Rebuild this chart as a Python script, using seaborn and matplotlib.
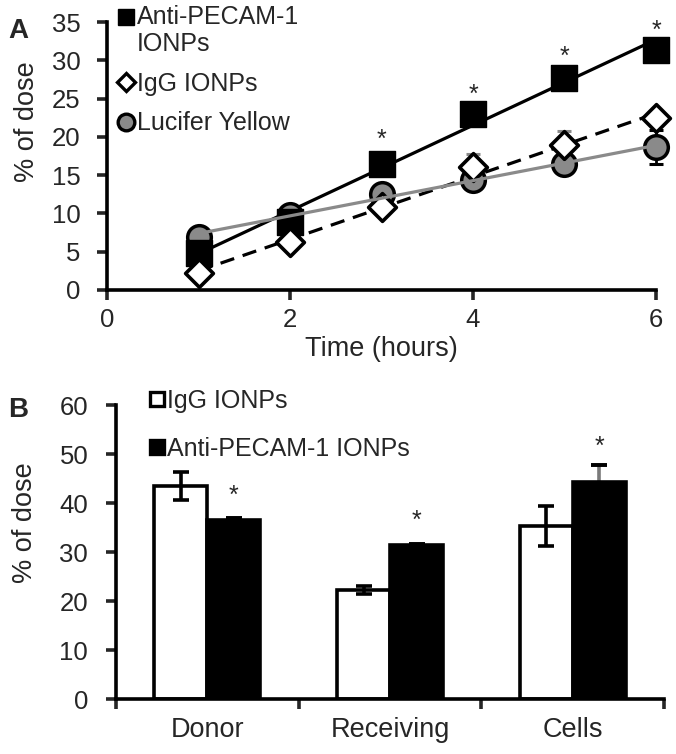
import matplotlib
matplotlib.use('Agg')

import numpy as np
import pandas as pd
import matplotlib.pyplot as plt
import seaborn as sns
from matplotlib.lines import Line2D
from matplotlib.patches import Patch
from matplotlib.legend_handler import HandlerLine2D

sns.set_style('white')
plt.rcParams['font.family'] = ['Liberation Sans', 'DejaVu Sans']

NUM_FS = 18.5   # tick numbers
LAB_FS = 19.5   # axis labels / categories
LEG_FS = 18     # legends
GREY = '#8a8a8a'

# ---------------- data: panel A ----------------
hours = [1, 2, 3, 4, 5, 6]
anti_pecam = [4.8, 8.9, 16.5, 23.0, 27.7, 31.4]
anti_pecam_err = [0.8, 0.6, 0.5, 0.6, 0.5, 0.6]
igg = [2.2, 6.3, 10.9, 16.0, 18.9, 22.4]
igg_err = [0.3, 0.4, 0.5, 1.8, 1.9, 0.8]
lucifer = [6.9, 9.8, 12.6, 14.4, 16.4, 18.7]
lucifer_err = [0.4, 0.4, 0.4, 0.4, 0.4, 2.2]
star_hours = [3, 4, 5, 6]
star_y = [18.7, 24.6, 29.5, 32.9]   # baseline of the asterisks

# ---------------- data: panel B ----------------
compartments = ['Donor', 'Receiving', 'Cells']
igg_bar = [43.5, 22.2, 35.3]
igg_bar_err = [2.9, 0.8, 4.0]
anti_bar = [36.5, 31.4, 44.3]
anti_bar_err = [0.4, 0.2, 3.5]
bar_star_y = [40.1, 35.0, 50.1]     # baseline of the asterisks


class RaisedHandler(HandlerLine2D):
    """put the marker on the first line of a two-line legend label"""
    def __init__(self, shift, **kw):
        super().__init__(**kw)
        self.shift = shift

    def create_artists(self, legend, orig_handle, xdescent, ydescent,
                       width, height, fontsize, trans):
        return super().create_artists(legend, orig_handle, xdescent, ydescent,
                                      width, height + 2 * self.shift,
                                      fontsize, trans)


def style_axis(ax):
    sns.despine(ax=ax)
    for s in ['left', 'bottom']:
        ax.spines[s].set_linewidth(2.6)
        ax.spines[s].set_color('black')


fig = plt.figure(figsize=(6.76, 7.54), dpi=100)

# ==============================================================================
# PANEL A
# ==============================================================================
axA = fig.add_axes([0.1583, 0.6154, 0.8121, 0.3554])

# linear trendlines
sns.regplot(x=hours, y=anti_pecam, ax=axA, scatter=False, ci=None, truncate=True,
            line_kws=dict(color='black', lw=2.3, zorder=2))
sns.regplot(x=hours, y=igg, ax=axA, scatter=False, ci=None, truncate=True,
            line_kws=dict(color='black', lw=2.3, ls=(0, (4.5, 2.8)), zorder=2))
sns.regplot(x=hours, y=lucifer, ax=axA, scatter=False, ci=None, truncate=True,
            line_kws=dict(color=GREY, lw=2.3, zorder=5))

# error bars
err_kw = dict(fmt='none', elinewidth=2, capsize=5, capthick=2.2, zorder=1)
for yv, ev, col in [(anti_pecam, anti_pecam_err, 'black'),
                    (igg, igg_err, GREY),
                    (lucifer, lucifer_err, 'black')]:
    eb = axA.errorbar(hours, yv, yerr=ev, ecolor=col, **err_kw)
    for art in eb.lines[1] + eb.lines[2]:
        art.set_clip_on(False)

# markers
sns.scatterplot(x=hours, y=lucifer, ax=axA, marker='o', s=290, color=GREY,
                edgecolor='black', linewidth=2.5, zorder=3, clip_on=False)
sns.scatterplot(x=hours, y=anti_pecam, ax=axA, marker='s', s=330, color='black',
                edgecolor='black', linewidth=1, zorder=4, clip_on=False)
sns.scatterplot(x=hours, y=igg, ax=axA, marker='D', s=200, color='white',
                edgecolor='black', linewidth=2.6, zorder=4, clip_on=False)

for h, y in zip(star_hours, star_y):
    axA.text(h, y, '*', ha='center', va='baseline', fontsize=LEG_FS,
             clip_on=False)

axA.set_xlim(0, 6)
axA.set_ylim(0, 35)
axA.set_xticks([0, 2, 4, 6])
axA.set_yticks(range(0, 36, 5))
axA.set_xlabel('Time (hours)', fontsize=LAB_FS, labelpad=3)
axA.set_ylabel('% of dose', fontsize=LAB_FS)
axA.yaxis.set_label_coords(-0.122, 0.63)
axA.tick_params(axis='x', direction='out', length=7, width=2.6, pad=6,
                labelsize=NUM_FS, bottom=True)
axA.tick_params(axis='y', direction='out', length=7, width=2.6, pad=12,
                labelsize=NUM_FS, left=True)
style_axis(axA)

h_anti = Line2D([], [], ls='none', marker='s', ms=11.5, mfc='black', mec='black')
h_igg = Line2D([], [], ls='none', marker='D', ms=9, mfc='white', mec='black', mew=2.4)
h_ly = Line2D([], [], ls='none', marker='o', ms=12, mfc=GREY, mec='black', mew=2.4)
legA = axA.legend([h_anti, h_igg, h_ly],
                  ['Anti-PECAM-1\nIONPs', 'IgG IONPs', 'Lucifer Yellow'],
                  handler_map={h_anti: RaisedHandler(shift=10.5)},
                  loc='upper left', bbox_to_anchor=(0.018, 1.065), frameon=False,
                  handlelength=0.7, handletextpad=0.1, labelspacing=0.62,
                  borderpad=0, borderaxespad=0, fontsize=LEG_FS)
for t in legA.get_texts():
    t.set_linespacing(1.2)

fig.text(0.012, 1 - 38 / 754, 'A', fontsize=20, fontweight='bold', va='baseline')

# ==============================================================================
# PANEL B
# ==============================================================================
axB = fig.add_axes([0.1716, 0.0729, 0.8107, 0.3899])

df = pd.DataFrame({
    'compartment': compartments * 2,
    'dose': igg_bar + anti_bar,
    'group': ['IgG IONPs'] * 3 + ['Anti-PECAM-1 IONPs'] * 3,
})
bar_w = 0.58
sns.barplot(data=df, x='compartment', y='dose', hue='group', ax=axB,
            palette=['white', 'black'], edgecolor='black', linewidth=2.6,
            width=bar_w, errorbar=None, legend=False, zorder=2)

xpos = np.arange(len(compartments))
off = bar_w / 4
axB.errorbar(xpos - off, igg_bar, yerr=igg_bar_err, fmt='none', ecolor='black',
             elinewidth=2.6, capsize=6, capthick=2.6, zorder=3)
axB.errorbar(xpos + off, anti_bar, yerr=[[0, 0, 0], anti_bar_err], fmt='none',
             ecolor='#7a7a7a', elinewidth=2.6, capsize=0, zorder=1)
axB.errorbar(xpos + off, np.array(anti_bar) + np.array(anti_bar_err), yerr=0,
             fmt='none', ecolor='black', capsize=6, capthick=2.6, elinewidth=0,
             zorder=3)

for x, y in zip(xpos + off, bar_star_y):
    axB.text(x, y, '*', ha='center', va='baseline', fontsize=LEG_FS)

axB.set_xlim(-0.5, 2.5)
axB.set_ylim(0, 60)
axB.set_yticks(range(0, 61, 10))
axB.set_xticks([-0.5, 0.5, 1.5, 2.5], minor=True)
axB.set_xlabel('')
axB.set_ylabel('% of dose', fontsize=LAB_FS)
axB.yaxis.set_label_coords(-0.143, 0.60)
axB.tick_params(axis='x', which='major', length=0, pad=13, labelsize=LAB_FS)
axB.tick_params(axis='x', which='minor', direction='out', length=7, width=2.6,
                bottom=True)
axB.tick_params(axis='y', direction='out', length=7, width=2.6, pad=13,
                labelsize=NUM_FS, left=True)
style_axis(axB)

handlesB = [Patch(facecolor='white', edgecolor='black', linewidth=2.4),
            Patch(facecolor='black', edgecolor='black', linewidth=2.4)]
axB.legend(handlesB, ['IgG IONPs', 'Anti-PECAM-1 IONPs'], loc='upper left',
           bbox_to_anchor=(0.062, 1.055), frameon=False, handlelength=0.55,
           handleheight=0.5, handletextpad=0.15, labelspacing=0.95,
           borderpad=0, borderaxespad=0, fontsize=LEG_FS)

fig.text(0.012, 1 - 417 / 754, 'B', fontsize=20, fontweight='bold', va='baseline')

plt.savefig('out.png', dpi=100)
plt.close()
